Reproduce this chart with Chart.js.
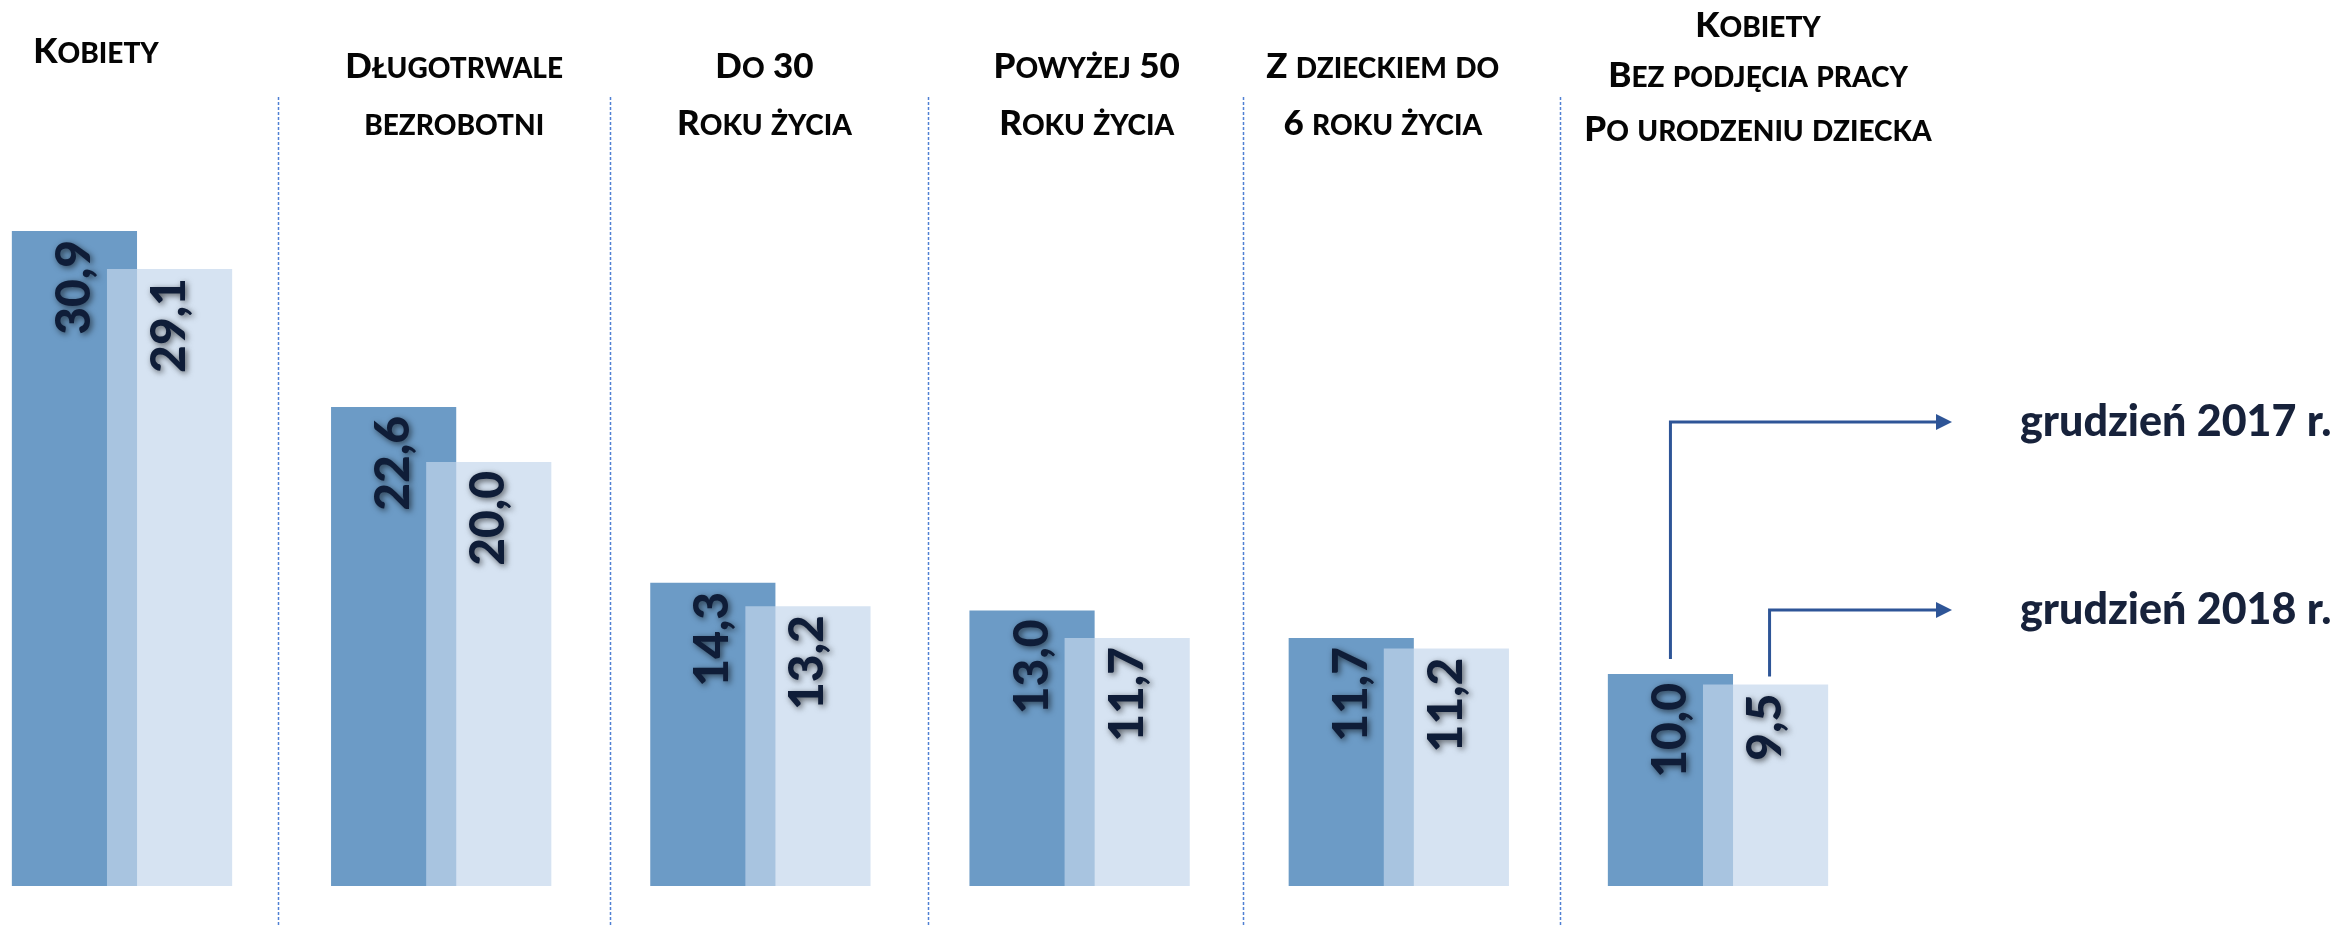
<!DOCTYPE html>
<html>
<head>
<meta charset="utf-8">
<script src="https://cdn.jsdelivr.net/npm/chart.js@4.4.1/dist/chart.umd.min.js"></script>
<style>
  html, body { margin: 0; padding: 0; background: #fff; }
  #wrap { width: 2346px; height: 927px; }
</style>
</head>
<body>
<div id="wrap"><canvas id="chart"></canvas></div>
<script>
// data
const categories = [
  ['Kobiety'],
  ['Długotrwale', 'bezrobotni'],
  ['Do 30', 'Roku życia'],
  ['Powyżej 50', 'Roku życia'],
  ['Z dzieckiem do', '6 roku życia'],
  ['Kobiety', 'Bez podjęcia pracy', 'Po urodzeniu dziecka']
];
const dec2017 = [30.9, 22.6, 14.3, 13.0, 11.7, 10.0];
const dec2018 = [29.1, 20.0, 13.2, 11.7, 11.2, 9.5];
const seriesNames = ['grudzień 2017 r.', 'grudzień 2018 r.'];

// layout of the header labels (baselines and small x nudges)
const labelRows = [[63], [78, 135], [78, 135], [78, 135], [78, 135], [37, 87, 141]];
const labelShift = [-26, 13, 4, 7, -16, 40];
const sepShift = [-4, 9, 8, 4, 2];

const FONT = 'Lato';

function drawSmallCaps(ctx, text, cx, y, size, weight) {
  const small = Math.round(size * 0.8);
  const runs = [];
  for (const ch of text) {
    const lower = ch !== ch.toUpperCase();
    const s = lower ? small : size;
    const c = lower ? ch.toUpperCase() : ch;
    const last = runs[runs.length - 1];
    if (last && last.s === s) last.t += c;
    else runs.push({ t: c, s: s });
  }
  let w = 0;
  runs.forEach(r => {
    ctx.font = `${weight} ${r.s}px ${FONT}`;
    r.w = ctx.measureText(r.t).width;
    w += r.w;
  });
  let x = cx - w / 2;
  ctx.textAlign = 'left';
  ctx.textBaseline = 'alphabetic';
  runs.forEach(r => {
    ctx.font = `${weight} ${r.s}px ${FONT}`;
    ctx.fillText(r.t, x, y);
    x += r.w;
  });
}

// light bars have to sit over the dark ones, so they are drawn later by hand
let drawingLight = false;

const decor = {
  id: 'decor',
  beforeDatasetsDraw(chart) {
    const ctx = chart.ctx;
    const xs = chart.scales.x;
    ctx.save();
    ctx.strokeStyle = '#4f80d4';
    ctx.lineWidth = 1.5;
    ctx.setLineDash([3, 2]);
    for (let i = 0; i < categories.length - 1; i++) {
      const x = Math.round((xs.getPixelForValue(i) + xs.getPixelForValue(i + 1)) / 2) + sepShift[i] + 0.5;
      ctx.beginPath();
      ctx.moveTo(x, 97);
      ctx.lineTo(x, chart.height);
      ctx.stroke();
    }
    ctx.restore();
  },
  beforeDatasetDraw(chart, args) {
    if (args.index === 1 && !drawingLight) return false;
  },
  afterDatasetsDraw(chart) {
    const ctx = chart.ctx;
    const xs = chart.scales.x;
    drawingLight = true;
    chart.getDatasetMeta(1).controller.draw();
    drawingLight = false;

    // value labels, rotated, at the top of each bar
    ctx.save();
    ctx.font = `900 48px ${FONT}`;
    ctx.fillStyle = '#0f1d38';
    ctx.shadowColor = 'rgba(0,0,0,0.6)';
    ctx.shadowBlur = 6;
    ctx.shadowOffsetX = 2;
    ctx.shadowOffsetY = 2;
    [0, 1].forEach(d => {
      const vals = d === 0 ? dec2017 : dec2018;
      chart.getDatasetMeta(d).data.forEach((bar, i) => {
        ctx.save();
        ctx.translate(bar.x, bar.y + 9);
        ctx.rotate(-Math.PI / 2);
        ctx.textAlign = 'right';
        ctx.textBaseline = 'middle';
        ctx.fillText(vals[i].toFixed(1).replace('.', ','), 0, 0);
        ctx.restore();
      });
    });
    ctx.restore();

    // header labels
    ctx.save();
    ctx.fillStyle = '#050505';
    categories.forEach((lines, i) => {
      const cx = xs.getPixelForValue(i) + labelShift[i];
      lines.forEach((t, k) => drawSmallCaps(ctx, t, cx, labelRows[i][k], 35, 900));
    });
    ctx.restore();

    // arrows from the last pair of bars to the series names
    const lastI = categories.length - 1;
    const dark = chart.getDatasetMeta(0).data[lastI];
    const light = chart.getDatasetMeta(1).data[lastI];
    const tipX = 1952;
    const arrows = [
      { x: dark.x, y0: dark.y - 15, y1: 422, name: seriesNames[0] },
      { x: light.x + 4, y0: light.y - 8, y1: 610, name: seriesNames[1] }
    ];
    ctx.save();
    ctx.strokeStyle = '#2e5597';
    ctx.fillStyle = '#2e5597';
    ctx.lineWidth = 3;
    arrows.forEach(a => {
      ctx.beginPath();
      ctx.moveTo(a.x, a.y0);
      ctx.lineTo(a.x, a.y1);
      ctx.lineTo(tipX - 14, a.y1);
      ctx.stroke();
      ctx.beginPath();
      ctx.moveTo(tipX, a.y1);
      ctx.lineTo(tipX - 16, a.y1 - 8);
      ctx.lineTo(tipX - 16, a.y1 + 8);
      ctx.closePath();
      ctx.fill();
    });
    ctx.fillStyle = '#17223b';
    ctx.font = `900 43px ${FONT}`;
    ctx.textAlign = 'left';
    ctx.textBaseline = 'middle';
    arrows.forEach(a => ctx.fillText(a.name, 2020, a.y1));
    ctx.restore();
  }
};

new Chart(document.getElementById('chart'), {
  type: 'bar',
  data: {
    labels: categories,
    datasets: [
      {
        label: seriesNames[0],
        data: dec2017,
        backgroundColor: '#6c9bc6',
        categoryPercentage: 0.596,
        barPercentage: 1.316,
        clip: false
      },
      {
        label: seriesNames[1],
        data: dec2018,
        backgroundColor: 'rgba(196,215,236,0.69)',
        categoryPercentage: 0.596,
        barPercentage: 1.316,
        clip: false
      }
    ]
  },
  options: {
    responsive: true,
    maintainAspectRatio: false,
    animation: false,
    devicePixelRatio: 1,
    layout: { padding: { left: 122, right: 628, top: 38, bottom: 41 } },
    plugins: { legend: { display: false }, tooltip: { enabled: false } },
    scales: {
      x: { display: false, offset: false },
      y: { display: false, min: 0, max: 40 }
    }
  },
  plugins: [decor]
});
</script>
</body>
</html>
